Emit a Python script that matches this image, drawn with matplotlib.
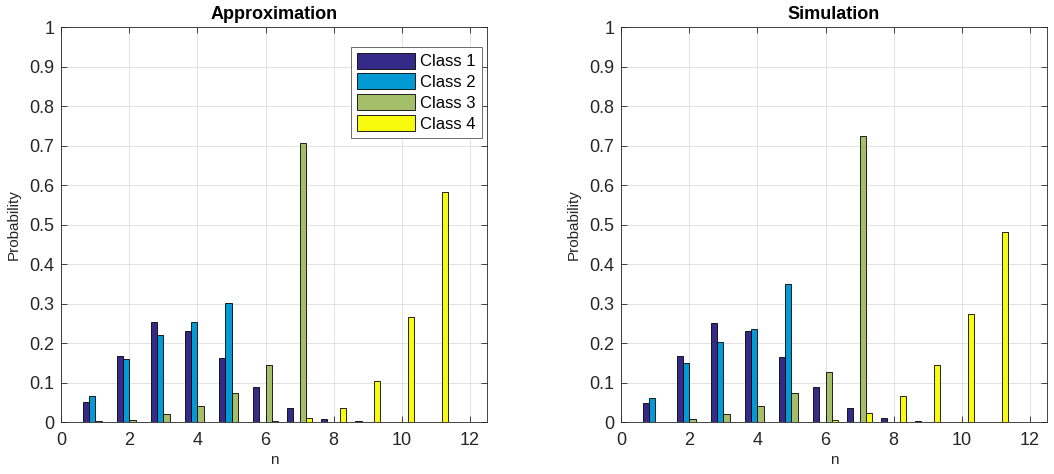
import matplotlib
matplotlib.use('Agg')
import matplotlib.pyplot as plt
import numpy as np

plt.rcParams['font.family'] = ['Liberation Sans', 'DejaVu Sans']

n = np.arange(1, 12)
classes = ['Class 1', 'Class 2', 'Class 3', 'Class 4']
colors = ['#352A87', '#0399D2', '#A5BE6A', '#F9FB0E']

approx_c1 = [0.051, 0.169, 0.254, 0.232, 0.163, 0.089, 0.035, 0.009, 0.002, 0, 0]
approx_c2 = [0.067, 0.160, 0.222, 0.254, 0.302, 0.001, 0, 0, 0, 0, 0]
approx_c3 = [0.002, 0.007, 0.020, 0.041, 0.075, 0.145, 0.706, 0, 0, 0, 0]
approx_c4 = [0, 0, 0, 0, 0.001, 0.002, 0.011, 0.035, 0.104, 0.266, 0.582]

sim_c1 = [0.049, 0.167, 0.252, 0.232, 0.165, 0.090, 0.037, 0.011, 0.002, 0, 0]
sim_c2 = [0.062, 0.149, 0.204, 0.235, 0.351, 0, 0, 0, 0, 0, 0]
sim_c3 = [0.001, 0.009, 0.020, 0.041, 0.073, 0.128, 0.724, 0, 0, 0, 0]
sim_c4 = [0, 0, 0, 0, 0.001, 0.007, 0.024, 0.066, 0.144, 0.275, 0.483]

panels = [
    ('Approximation', [approx_c1, approx_c2, approx_c3, approx_c4]),
    ('Simulation', [sim_c1, sim_c2, sim_c3, sim_c4]),
]

fig = plt.figure(figsize=(10.54, 4.74), dpi=100)
lefts = [0.0582, 0.5895]
width = 0.18
offsets = [-0.27, -0.09, 0.09, 0.27]
axcol = '#262626'

for i, (title, series) in enumerate(panels):
    ax = fig.add_axes([lefts[i], 0.1091, 0.4036, 0.8333])
    for vals, off, col, lab in zip(series, offsets, colors, classes):
        ax.bar(n + off, vals, width=width, color=col, edgecolor='black',
               linewidth=0.6, label=lab, zorder=3)
    ax.set_xlim(0, 12.5)
    ax.set_ylim(0, 1)
    ax.set_xticks(np.arange(0, 13, 2))
    ax.set_yticks(np.arange(0, 1.01, 0.1))
    ax.set_yticklabels(['0'] + ['%.1f' % v for v in np.arange(0.1, 0.95, 0.1)] + ['1'])
    ax.grid(True, color='#dedede', linewidth=0.6, zorder=0)
    ax.tick_params(direction='in', top=True, right=True, labelsize=13,
                   colors=axcol, length=4, width=0.6)
    ax.tick_params(axis='x', pad=7)
    ax.tick_params(axis='y', pad=5)
    for sp in ax.spines.values():
        sp.set_color(axcol)
        sp.set_linewidth(0.6)
    ax.set_title(title, fontsize=13, fontweight='bold', pad=6)
    ax.set_xlabel('n', fontsize=11, color=axcol, labelpad=3)
    ax.set_ylabel('Probability', fontsize=11, color=axcol, labelpad=6)
    if i == 0:
        leg = ax.legend(loc='upper right', bbox_to_anchor=(0.457, 0.9015),
                        bbox_transform=fig.transFigure, fontsize=12,
                        fancybox=False, edgecolor='#555555', framealpha=1,
                        handlelength=3.5, handleheight=1.1, labelspacing=0.25,
                        borderpad=0.35, handletextpad=0.3, borderaxespad=0)
        leg.get_frame().set_linewidth(0.6)

fig.savefig('out.png', dpi=100)
